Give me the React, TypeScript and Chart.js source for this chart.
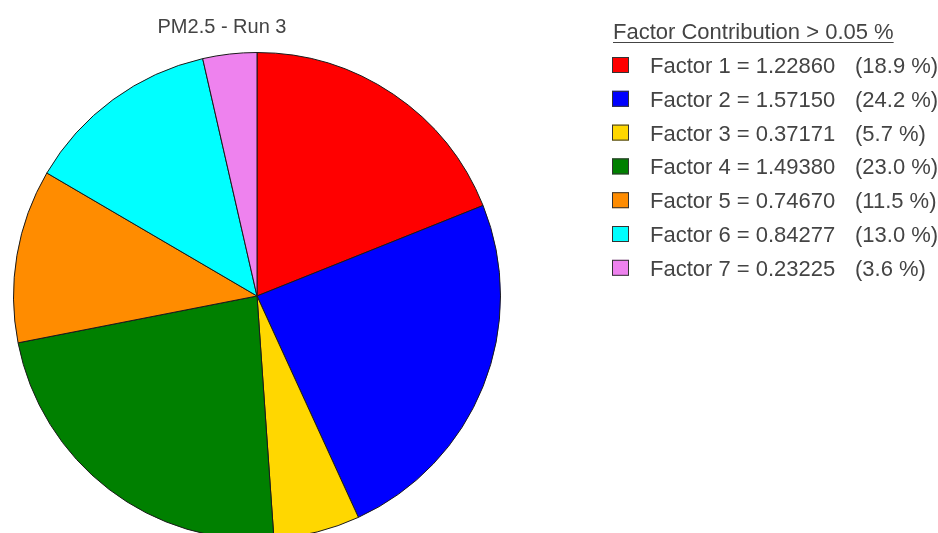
import React, { useEffect, useRef } from "react";
import { Chart, registerables } from "chart.js";

Chart.register(...registerables);

const chartTitle = "PM2.5 - Run 3";
const legendTitle = "Factor Contribution > 0.05 %";
const factorLabels = ["Factor 1", "Factor 2", "Factor 3", "Factor 4", "Factor 5", "Factor 6", "Factor 7"];
const factorValues = [1.2286, 1.5715, 0.37171, 1.4938, 0.7467, 0.84277, 0.23225];
const factorColors = ["#FF0000", "#0000FF", "#FFD700", "#008000", "#FF8C00", "#00FFFF", "#EE82EE"];

const FONT = '"Liberation Sans", Arial, sans-serif';
const TEXT_COLOR = "#444444";

const overlayPlugin = {
  id: "overlay",
  afterDraw(chart: any) {
    const ctx = chart.ctx as CanvasRenderingContext2D;
    const ds = chart.data.datasets[0];
    const values = ds.data as number[];
    const total = values.reduce((a, b) => a + b, 0);
    ctx.save();
    // Title
    ctx.fillStyle = TEXT_COLOR;
    ctx.font = `20px ${FONT}`;
    ctx.textAlign = "center";
    ctx.textBaseline = "alphabetic";
    ctx.fillText(chartTitle, 222, 33);

    // Legend title
    ctx.textAlign = "left";
    ctx.font = `22px ${FONT}`;
    ctx.fillText(legendTitle, 613, 39);
    const w = ctx.measureText(legendTitle).width;
    ctx.strokeStyle = TEXT_COLOR;
    ctx.lineWidth = 1;
    ctx.beginPath();
    ctx.moveTo(613, 42.5);
    ctx.lineTo(613 + w, 42.5);
    ctx.stroke();

    // Legend items
    (chart.data.labels as string[]).forEach((label, i) => {
      const base = 73 + i * 33.8;
      const v = values[i];
      const pct = (v / total) * 100;
      ctx.fillStyle = (ds.backgroundColor as string[])[i];
      ctx.fillRect(612, base - 16, 17, 16);
      ctx.strokeStyle = "#333333";
      ctx.lineWidth = 1;
      ctx.strokeRect(612.5, base - 15.5, 16, 15);
      ctx.fillStyle = TEXT_COLOR;
      ctx.fillText(`${label} = ${v.toFixed(5)}`, 650, base);
      ctx.fillText(`(${pct.toFixed(1)} %)`, 855, base);
    });
    ctx.restore();
  },
};

export default function App() {
  const ref = useRef<HTMLCanvasElement>(null);
  useEffect(() => {
    if (!ref.current) return;
    const chart = new Chart(ref.current, {
      type: "pie",
      data: {
        labels: factorLabels,
        datasets: [
          {
            data: factorValues,
            backgroundColor: factorColors,
            borderColor: "#1a1a1a",
            borderWidth: 1,
          },
        ],
      },
      options: {
        responsive: false,
        animation: false,
        devicePixelRatio: 1,
        layout: { padding: { left: 13, right: 437, top: 52, bottom: 60 } },
        plugins: {
          legend: { display: false },
          title: { display: false },
          tooltip: { enabled: false },
        },
      },
      plugins: [overlayPlugin],
    });
    return () => chart.destroy();
  }, []);
  return (
    <div
      style={{
        position: "fixed",
        left: 0,
        top: 0,
        width: 938,
        height: 533,
        overflow: "hidden",
        background: "#fff",
      }}
    >
      <canvas ref={ref} width={938} height={600} style={{ display: "block" }} />
    </div>
  );
}
